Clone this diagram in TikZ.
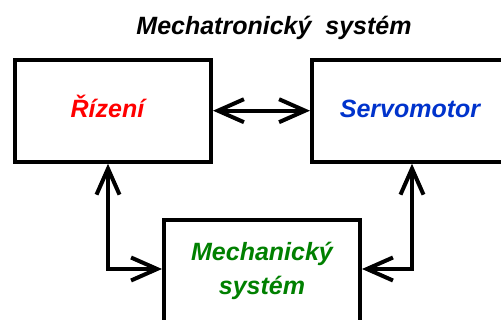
\documentclass[tikz,border=0pt]{standalone}
\usepackage{fontspec}
\setmainfont{Liberation Sans}
\usetikzlibrary{arrows.meta}
\definecolor{rizred}{RGB}{255,0,0}
\definecolor{servblue}{RGB}{0,51,204}
\definecolor{mechgreen}{RGB}{0,128,0}

\begin{document}
\begin{tikzpicture}[x=1pt,y=-1pt,line width=4pt,font=\bfseries\itshape\fontsize{25}{34}\selectfont,
  blok/.style={draw,minimum width=196pt,minimum height=102pt,inner sep=0pt,align=center},
  hore/.style={text height=17pt,text depth=4pt},
  spoj/.style={{Straight Barb[length=26pt,width=23pt]}-{Straight Barb[length=26pt,width=23pt]}}]
\useasboundingbox (0,0) rectangle (501,320);
\node[anchor=base] (titul) at (274,35) {Mechatronický~~systém};
\node[blok,hore,text=rizred] (rizeni) at (113,110.7) {Řízení\hspace*{11pt}};
\node[blok,hore,text=servblue] (servo) at (410,110.7) {Servomotor};
\node[blok,text=mechgreen] (mech) at (262,271) {Mechanický\\systém};
\coordinate (lk) at (108,269); \coordinate (rk) at (412,269);
\draw[spoj] (rizeni) -- (servo);
\draw[spoj] (rizeni.south -| lk) |- (mech.west |- lk);
\draw[spoj] (servo.south -| rk) |- (mech.east |- rk);
\end{tikzpicture}
\end{document}
